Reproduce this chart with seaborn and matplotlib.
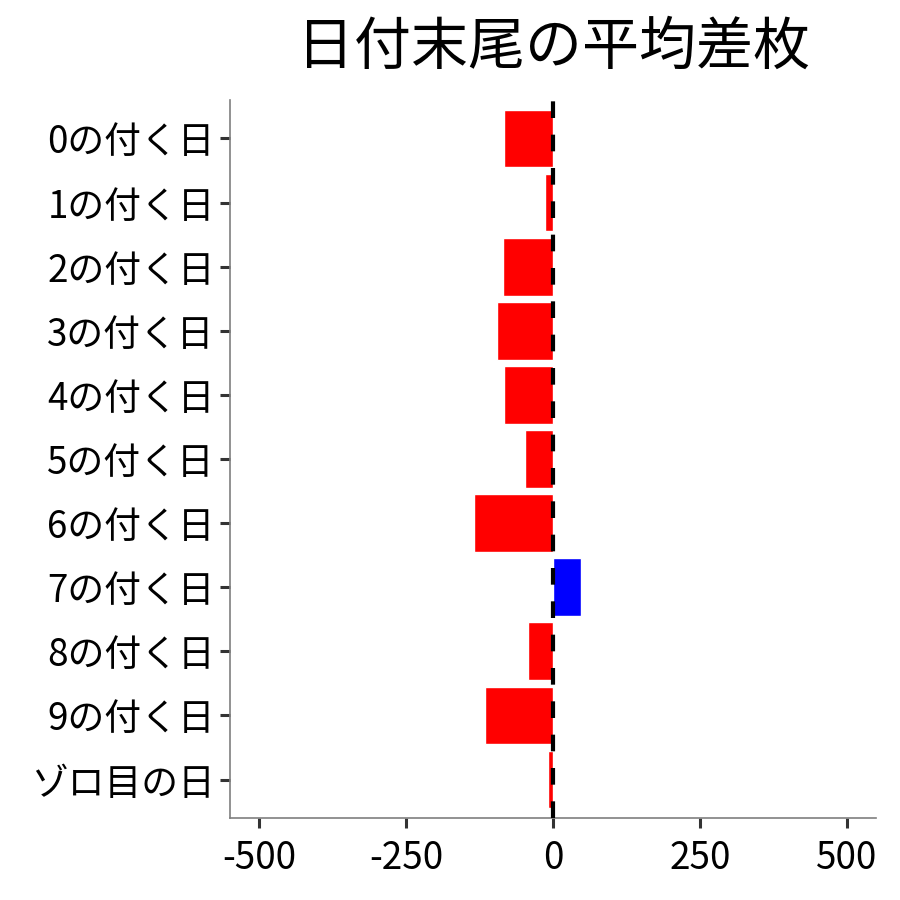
import pandas as pd
import seaborn as sns
import matplotlib.pyplot as plt

# values
categories = ['0の付く日', '1の付く日', '2の付く日', '3の付く日', '4の付く日',
              '5の付く日', '6の付く日', '7の付く日', '8の付く日', '9の付く日', 'ゾロ目の日']
diff_values = [-84, -14, -86, -96, -84, -48, -134, 48, -42, -116, -9]
x_ticks = [-500, -250, 0, 250, 500]
x_tick_labels = ['-500', '-250', '0', '250', '500']

sns.set_style('white')
plt.rcParams['font.family'] = ['Noto Sans CJK JP', 'DejaVu Sans']

data = pd.DataFrame({'day': categories, 'diff': diff_values})
data['sign'] = ['plus' if v > 0 else 'minus' for v in data['diff']]

fig = plt.figure(figsize=(9, 9), dpi=100)
ax = fig.add_axes([0.2556, 0.0911, 0.7177, 0.7978])

sns.barplot(data=data, x='diff', y='day', hue='sign', order=categories,
            palette={'minus': '#FF0000', 'plus': '#0000FF'}, dodge=False,
            width=0.9, saturation=1, legend=False, ax=ax)

# zero line
ax.axvline(0, color='black', linewidth=3, linestyle=(0, (4, 4)), zorder=5)

ax.set_xlim(-550, 550)
ax.set_ylim(10.6, -0.6)
ax.set_xticks(x_ticks)
ax.set_xticklabels(x_tick_labels)
ax.set_xlabel('')
ax.set_ylabel('')
ax.set_title('日付末尾の平均差枚', fontsize=41, color='black', pad=26)

for side in ['top', 'right']:
    ax.spines[side].set_visible(False)
for side in ['left', 'bottom']:
    ax.spines[side].set_color('#7f7f7f')
    ax.spines[side].set_linewidth(1.2)

ax.tick_params(axis='both', labelsize=26.5, colors='#333333', length=7, width=2.2,
               labelcolor='black', direction='out', pad=4,
               left=True, bottom=True)
ax.tick_params(axis='x', pad=8)

plt.savefig('out.png', dpi=100)
